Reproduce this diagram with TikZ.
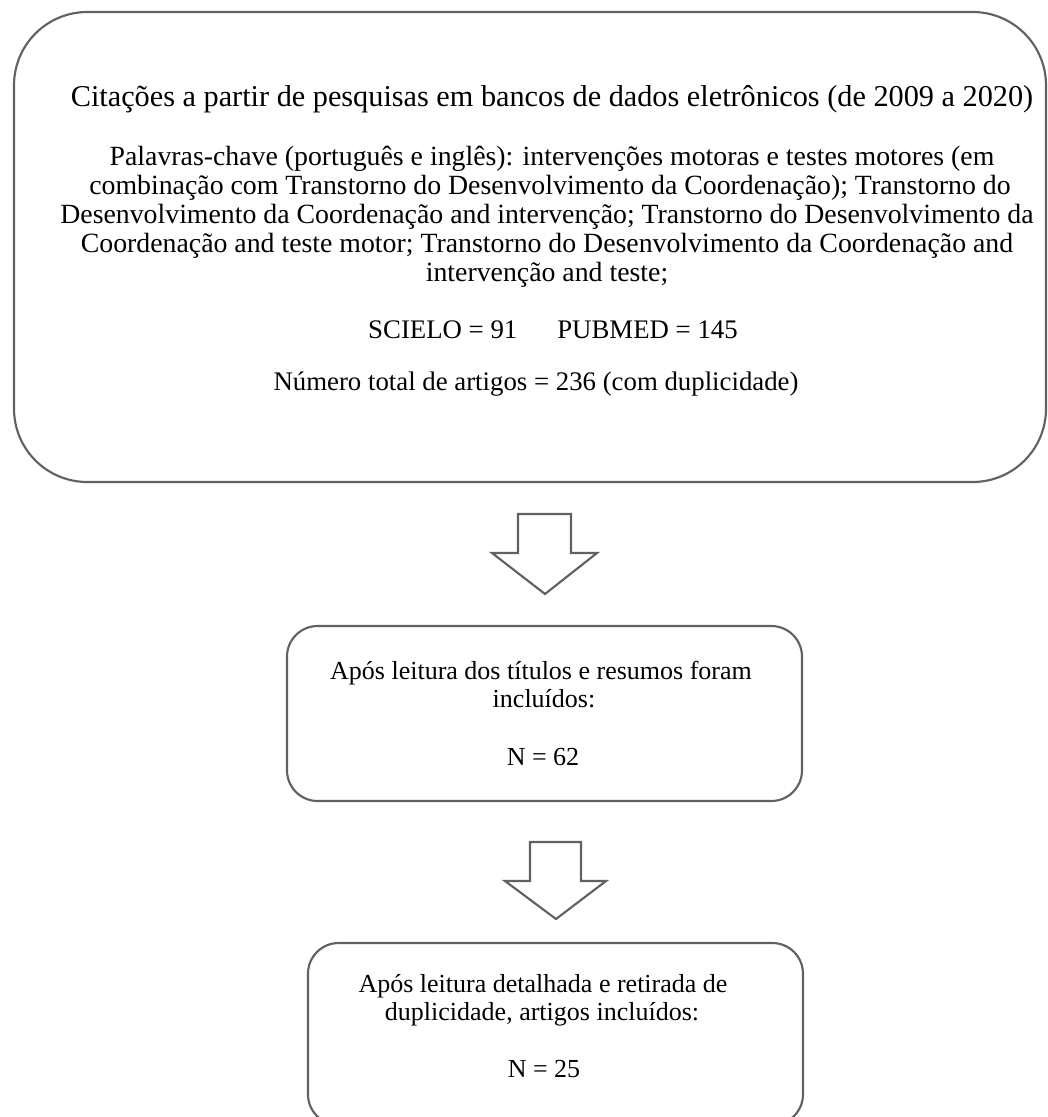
\documentclass[tikz,border=0pt]{standalone}
\usepackage{fontspec}
\setmainfont{Liberation Serif}
\begin{document}
\begin{tikzpicture}[x=0.75pt,y=-0.75pt,
  boxline/.style={draw=black!62,line width=1.6pt},
  txt/.style={anchor=base,inner sep=0pt,text=black,font=\fontsize{19.5pt}{21.75pt}\selectfont},
  titletxt/.style={txt,font=\fontsize{22.7pt}{24pt}\selectfont},
  kwtxt/.style={txt,font=\fontsize{20.85pt}{22pt}\selectfont},
  numtxt/.style={txt,font=\fontsize{20.1pt}{22pt}\selectfont},
  blockarrow/.style={draw=black!62,line width=1.6pt,fill=white,line join=miter}]
\useasboundingbox (0,0) rectangle (1048,1117);
\clip (0,0) rectangle (1048,1117);
% boxes
\draw[boxline,rounded corners=55pt] (14,12) rectangle (1046,482);
\draw[boxline,rounded corners=23pt] (287,626) rectangle (802,801);
\draw[boxline,rounded corners=23pt] (308,943) rectangle (803,1125);
% text big box
\node[titletxt] (t1) at (552,106) {Citações a partir de pesquisas em bancos de dados eletrônicos (de 2009 a 2020)};
\node[kwtxt] (k1) at (552,165) {Palavras-chave (português e inglês): intervenções motoras e testes motores (em};
\node[kwtxt] (k2) at (550,194) {combinação com Transtorno do Desenvolvimento da Coordenação); Transtorno do};
\node[kwtxt] (k3) at (547,223) {Desenvolvimento da Coordenação and intervenção; Transtorno do Desenvolvimento da};
\node[kwtxt] (k4) at (547,252) {Coordenação and teste motor; Transtorno do Desenvolvimento da Coordenação and};
\node[kwtxt] (k5) at (547,281) {intervenção and teste;};
\node[numtxt] (s) at (553,338) {SCIELO = 91\hspace{30pt}PUBMED = 145};
\node[numtxt] (n) at (536,390) {Número total de artigos = 236 (com duplicidade)};
% arrow 1
\coordinate (a1) at (544.5,514);
\draw[blockarrow] (a1) ++(-26.5,0) -- ++(53,0) -- ++(0,39) -- ++(26,0) -- (545,594) -- (492,553) -- (518,553) -- cycle;
% box 2 text
\node[txt] (b2a) at (541,679) {Após leitura dos títulos e resumos foram};
\node[txt] (b2b) at (544,707) {incluídos:};
\node[txt] (b2c) at (543,765) {N = 62};
% arrow 2
\coordinate (a2) at (555.5,842);
\draw[blockarrow] (a2) ++(-25.5,0) -- ++(51,0) -- ++(0,39) -- ++(25,0) -- (556,919) -- (505,881) -- (530,881) -- cycle;
% box 3 text
\node[txt] (b3a) at (543,992) {Após leitura detalhada e retirada de};
\node[txt] (b3b) at (542,1020) {duplicidade, artigos incluídos:};
\node[txt] (b3c) at (544,1077) {N = 25};
\end{tikzpicture}
\end{document}
